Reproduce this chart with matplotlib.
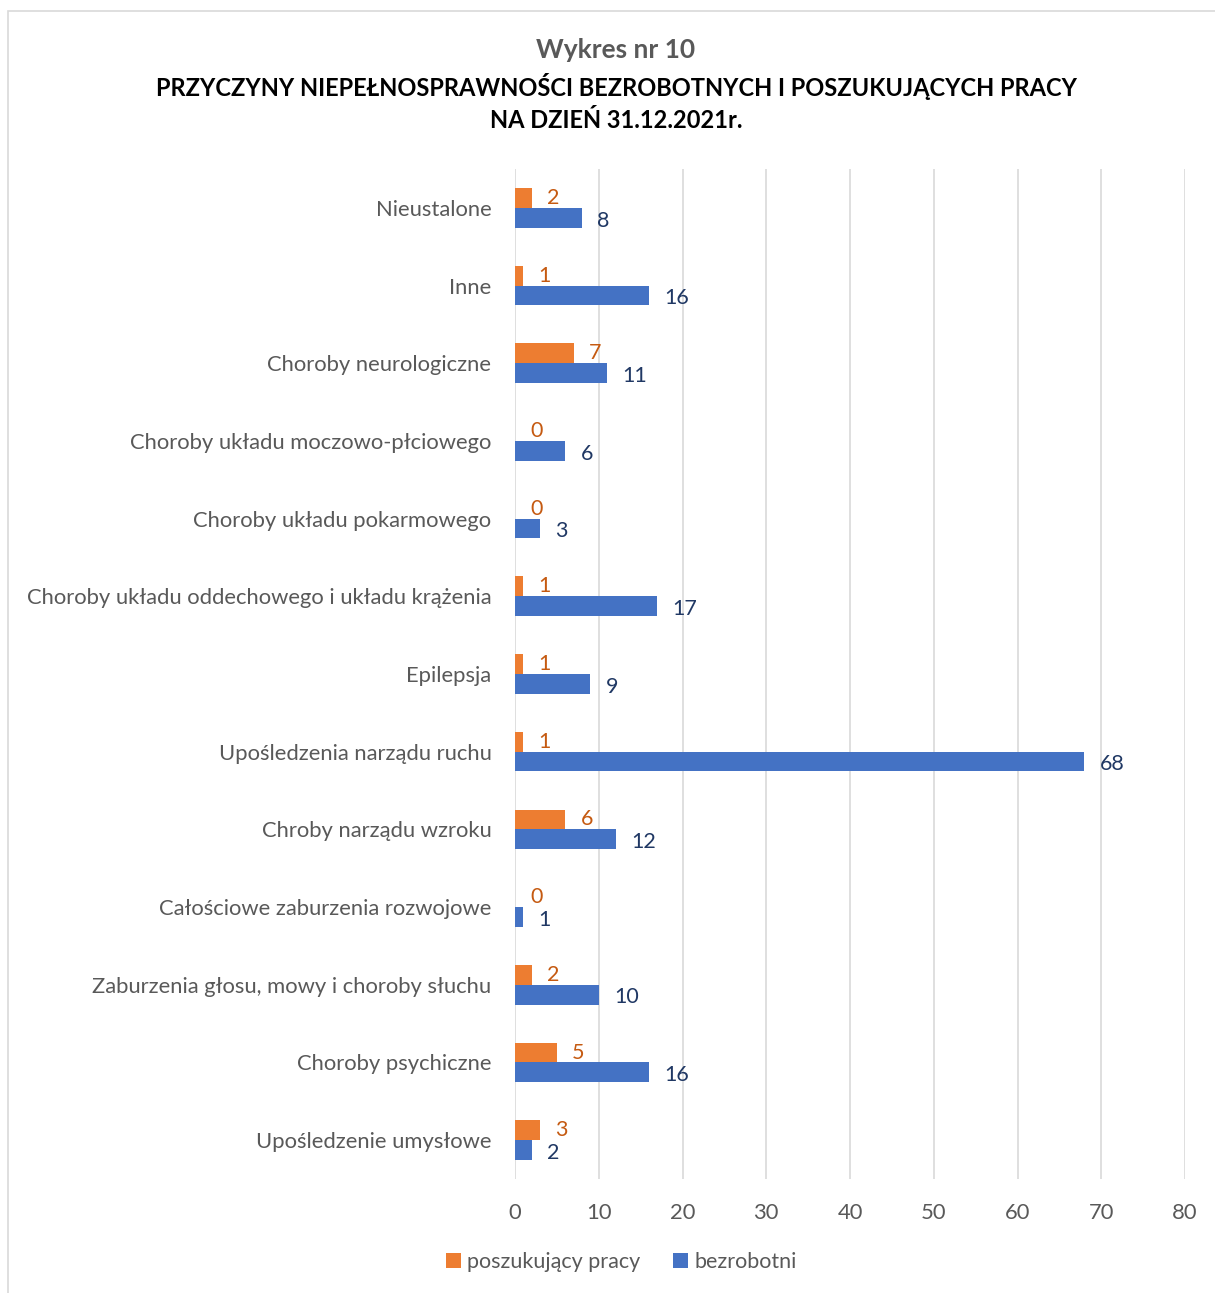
import matplotlib.pyplot as plt
import numpy as np
from matplotlib.patches import Rectangle

# categories listed bottom -> top
categories = [
    "Upośledzenie umysłowe",
    "Choroby psychiczne",
    "Zaburzenia głosu, mowy i choroby słuchu",
    "Całościowe zaburzenia rozwojowe",
    "Chroby narządu wzroku",
    "Upośledzenia narządu ruchu",
    "Epilepsja",
    "Choroby układu oddechowego i układu krążenia",
    "Choroby układu pokarmowego",
    "Choroby układu moczowo-płciowego",
    "Choroby neurologiczne",
    "Inne",
    "Nieustalone",
]
poszukujacy = [3, 5, 2, 0, 6, 1, 1, 1, 0, 0, 7, 1, 2]
bezrobotni = [2, 16, 10, 1, 12, 68, 9, 17, 3, 6, 11, 16, 8]
xticks = [0, 10, 20, 30, 40, 50, 60, 70, 80]

ORANGE = "#ED7D31"
BLUE = "#4472C4"
ORANGE_TXT = "#C55A11"
BLUE_TXT = "#203864"
GRAY = "#595959"
GRID = "#D9D9D9"

plt.rcParams["font.family"] = ["Lato", "DejaVu Sans"]

fig = plt.figure(figsize=(12.15, 12.93), dpi=100)
ax = fig.add_axes([0.4239, 0.0882, 0.5514, 0.7811])

y = np.arange(len(categories))
h = 0.255
ax.barh(y + h / 2, poszukujacy, height=h, color=ORANGE, label="poszukujący pracy", zorder=3)
ax.barh(y - h / 2, bezrobotni, height=h, color=BLUE, label="bezrobotni", zorder=3)

for yi, v in zip(y, poszukujacy):
    ax.annotate(str(v), (v, yi + h / 2), xytext=(11, 0), textcoords="offset points",
                ha="left", va="center", color=ORANGE_TXT, fontsize=15.5)
for yi, v in zip(y, bezrobotni):
    ax.annotate(str(v), (v, yi - h / 2), xytext=(11, -2), textcoords="offset points",
                ha="left", va="center", color=BLUE_TXT, fontsize=15.5)

ax.set_xlim(0, 80)
ax.set_ylim(-0.5, 12.5)
ax.set_xticks(xticks)
ax.set_yticks(y)
ax.set_yticklabels(categories)
ax.tick_params(axis="both", length=0, colors=GRAY, labelsize=15.8)
ax.tick_params(axis="y", pad=17)
ax.tick_params(axis="x", pad=17)
ax.grid(True, axis="x", color=GRID, linewidth=1.2, zorder=0)
for s in ax.spines.values():
    s.set_visible(False)

fig.text(0.507, 1 - 50 / 1293, "Wykres nr 10", ha="center", va="center",
         fontsize=19, fontweight="bold", color=GRAY)
fig.text(0.507, 1 - 86 / 1293, "PRZYCZYNY NIEPEŁNOSPRAWNOŚCI BEZROBOTNYCH I POSZUKUJĄCYCH PRACY",
         ha="center", va="center", fontsize=17, fontweight="bold", color="black")
fig.text(0.507, 1 - 120 / 1293, "NA DZIEŃ 31.12.2021r.", ha="center", va="center",
         fontsize=17, fontweight="bold", color="black")

fig.legend(loc="center", bbox_to_anchor=(621 / 1215, 1 - 1262 / 1293), ncol=2,
           frameon=False, fontsize=15.5, handlelength=0.7, handleheight=0.7,
           handletextpad=0.3, columnspacing=1.5, labelcolor=GRAY)

fig.patches.append(Rectangle((8 / 1215, -0.01), 1.1, 1 - 11 / 1293 + 0.01,
                             transform=fig.transFigure, fill=False,
                             edgecolor=GRID, linewidth=1.2))

fig.savefig("out.png", dpi=100)
